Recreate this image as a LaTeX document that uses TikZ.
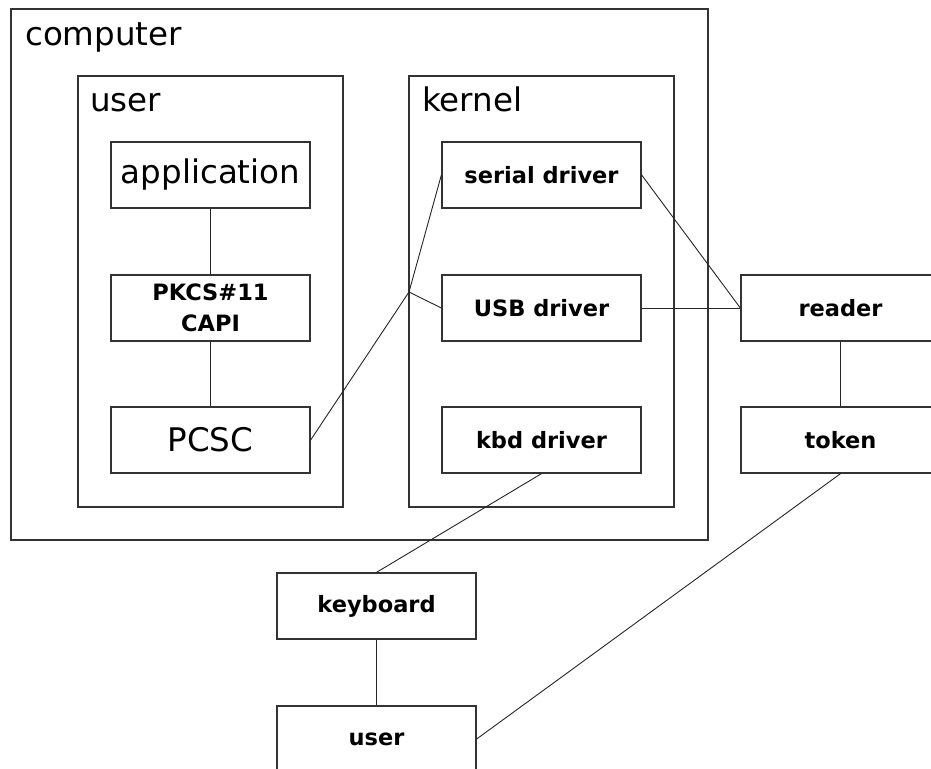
\documentclass[tikz,border=0pt]{standalone}
\usepackage{fontspec}
\setmainfont{DejaVu Sans}
\tikzset{
  big/.style={font=\fontsize{32.5}{38}\selectfont},
  small/.style={font=\bfseries\fontsize{22.5}{31}\selectfont},
  frame/.style={draw=black!80, line width=1.3pt, minimum width=#1, minimum height=431pt, inner sep=0pt},
  box/.style={draw=black!80, line width=1.3pt, minimum width=199pt, minimum height=66pt, inner sep=0pt, align=center},
  link/.style={draw=black!85, line width=0.9pt},
  title/.style={big, anchor=base west, inner sep=0pt}
}
\begin{document}
\begin{tikzpicture}[x=1pt, y=-1pt]
  \clip (0,0) rectangle (931,768);
  \fill[white] (0,0) rectangle (931,768);

  % enclosing regions
  \node[frame=697pt, minimum height=531pt] (computer) at (359.5,274.5) {};
  \node[frame=265pt] (userspace) at (210.5,291.5) {};
  \node[frame=265pt] (kernel) at (541.5,291.5) {};
  \node[title] (computerlbl) at (25,46) {computer};
  \node[title] (userlbl) at (90,111) {user};
  \node[title] (kernellbl) at (422,111) {kernel};

  % user-space stack
  \node[box, big] (app) at (210.5,175) {application};
  \node[box, small] (pkcs) at (210.5,308) {PKCS\#11\\CAPI};
  \node[box, big] (pcsc) at (210.5,440) {PCSC};

  % kernel drivers
  \node[box, small] (serial) at (541.5,175) {serial driver};
  \node[box, small] (usb) at (541.5,308) {USB driver};
  \node[box, small] (kbd) at (541.5,440) {kbd driver};

  % external devices
  \node[box, small] (reader) at (840.5,308) {reader};
  \node[box, small] (token) at (840.5,440) {token};
  \node[box, small] (keyboard) at (376.5,606) {keyboard};
  \node[box, small] (person) at (376.5,739) {user};

  % connections
  \coordinate (hub) at (409,292);
  \draw[link] (app) -- (pkcs);
  \draw[link] (pkcs) -- (pcsc);
  \draw[link] (pcsc.east) -- (hub) -- (serial.west);
  \draw[link] (hub) -- (usb.west);
  \draw[link] (serial.east) -- (reader.west);
  \draw[link] (usb.east) -- (reader.west);
  \draw[link] (reader) -- (token);
  \draw[link] (kbd.south) -- (keyboard.north);
  \draw[link] (keyboard) -- (person);
  \draw[link] (token.south) -- (person.east);
\end{tikzpicture}
\end{document}
